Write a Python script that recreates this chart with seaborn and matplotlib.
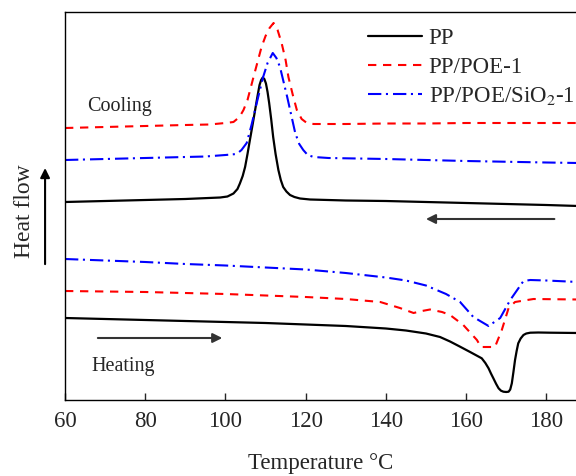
import numpy as np
import matplotlib
matplotlib.use('Agg')
import matplotlib.pyplot as plt
import seaborn as sns
import pandas as pd

fuente = 16.5

# cooling curves (temperature in C, heat flow in arbitrary units)
t_pp_c = [60, 70, 80, 90, 98.7, 100.5, 102, 103, 103.6, 104.3, 104.9, 105.5, 106.1, 106.8, 107.4,
          108, 108.5, 108.9, 109.3, 109.7, 110.1, 110.5, 110.9, 111.4, 111.9, 112.5, 113.2, 113.8,
          114.4, 115.2, 116.1, 117.2, 118.6, 121.1, 130, 140, 150, 160, 170, 180, 188]
pp_c = [198, 199, 200, 201, 202.5, 203.5, 206.5, 211, 216.5, 224, 233, 246, 260, 276, 290,
        304, 315, 320, 322.5, 321, 316.5, 308, 297, 281, 263, 246, 230, 220,
        213, 208.5, 205, 203, 201.5, 200.5, 199.5, 199, 198, 197, 196, 195, 194]

t_poe_c = [60, 70, 80, 90, 96, 100, 102, 103.5, 104.5, 105.5, 107, 108, 109, 110, 111, 112, 113,
           114, 115, 115.7, 116.8, 117.8, 119, 120.3, 122, 130, 140, 150, 160, 170, 180, 188]
poe_c = [272, 273, 274, 275, 275.5, 277, 278, 283, 290, 300, 323, 338, 353, 364, 372, 377, 370,
         357, 340, 323, 305, 290, 281, 277, 276, 276, 276.5, 276.5, 277, 277, 277, 277]

t_sio_c = [60, 70, 80, 90, 95, 100, 102.8, 104, 105.3, 106.5, 107.8, 109.4, 110.5, 111.8, 112.7,
           113.6, 114.5, 115.4, 116.4, 117.4, 118.4, 119.4, 120.5, 122, 125.7, 140, 160, 180, 188]
sio_c = [240, 241, 242, 243, 243.5, 245, 246, 250, 257, 275, 297, 323, 337, 347, 342,
         333, 318, 303, 285, 267, 256, 250, 245, 243, 242, 241, 239, 237.5, 237]

# heating curves
t_pp_h = [60, 70, 80, 90, 100, 110, 120, 130, 140, 145, 150, 153.5, 156, 158.5, 161, 163.9,
          164.8, 165.6, 166.2, 166.8, 167.5, 168.1, 168.7, 169.3, 170, 170.6, 171, 171.4, 171.8,
          172.2, 172.6, 173, 173.6, 174.3, 175, 176, 178, 181, 188]
pp_h = [82, 81, 80, 79, 78, 77, 75.5, 74, 71.5, 69.5, 66.5, 63, 58.5, 53.3, 48, 41.7,
        37, 31.7, 26.5, 21.7, 16, 11.7, 9.3, 8.3, 8, 8.3, 10.5, 16.7, 28,
        40, 49, 56.7, 61.5, 65, 66.5, 67.3, 67.5, 67.3, 67]

t_poe_h = [60, 70, 80, 90, 100, 110, 120, 130, 138.6, 143.5, 146.9, 149, 151, 154, 156, 159.3,
           162.7, 163.7, 167.2, 168.9, 170.6, 172.2, 176.8, 188]
poe_h = [109, 108.5, 108, 107, 106, 104.5, 103, 101, 98, 92, 87, 89, 90.5, 88, 85, 75,
         60, 53, 53, 70, 92, 98, 101, 100.5]

t_sio_h = [60, 70, 80, 90, 100, 110, 120, 130, 140, 145, 150, 155, 158.5, 161.8, 165.6, 168.5,
           171, 174.3, 176, 180, 188]
sio_h = [141, 139.5, 138, 136, 134.5, 132.5, 130.5, 127, 122.5, 119.5, 114.5, 106, 98, 83, 74, 82,
         100, 119, 120, 119.5, 118]

labels = ['PP', 'PP/POE-1', 'PP/POE/SiO$_2$-1']

sns.set_style('ticks')
plt.rcParams['font.family'] = ['Liberation Serif', 'DejaVu Serif']
plt.rcParams['mathtext.fontset'] = 'stix'

fig = plt.figure(figsize=(5.76, 4.76), dpi=100)
ax = fig.add_axes([65 / 576, 76 / 476, 511 / 576, 388 / 476])

red_dash = (4, 3.2)
blue_dashdot = (6.4, 2.2, 1, 2.4)

sns.lineplot(x=t_pp_c, y=pp_c, color='black', linewidth=1.6, ax=ax, label=labels[0])
sns.lineplot(x=t_poe_c, y=poe_c, color='red', linewidth=1.5, ax=ax, label=labels[1])
ax.lines[-1].set_dashes(red_dash)
sns.lineplot(x=t_sio_c, y=sio_c, color='blue', linewidth=1.5, ax=ax, label=labels[2])
ax.lines[-1].set_dashes(blue_dashdot)

sns.lineplot(x=t_pp_h, y=pp_h, color='black', linewidth=1.6, ax=ax)
sns.lineplot(x=t_poe_h, y=poe_h, color='red', linewidth=1.5, ax=ax)
ax.lines[-1].set_dashes(red_dash)
sns.lineplot(x=t_sio_h, y=sio_h, color='blue', linewidth=1.5, ax=ax)
ax.lines[-1].set_dashes(blue_dashdot)

ax.set_xlim(60, 187.4)
ax.set_ylim(0, 388)
ax.set_xticks(np.arange(60, 181, 20))
ax.set_yticks([])
ax.tick_params(axis='x', direction='in', length=5, width=1, labelsize=fuente, pad=8)
for s in ['left', 'bottom', 'top']:
    ax.spines[s].set_linewidth(1.0)
    ax.spines[s].set_color('black')
ax.spines['right'].set_visible(False)

ax.set_xlabel('Temperature \u00b0C', fontsize=fuente, labelpad=15)
ax.set_ylabel('Heat flow', fontsize=fuente + 0.5)
ax.yaxis.set_label_coords(-0.058, 0.487)
ax.annotate('', xy=(-0.039, 0.605), xytext=(-0.039, 0.343), xycoords='axes fraction',
            arrowprops=dict(arrowstyle='-|>', color='black', lw=1.5, mutation_scale=14),
            annotation_clip=False)

ax.annotate('', xy=(149.3, 181), xytext=(182.7, 181),
            arrowprops=dict(arrowstyle='-|>', color='#333333', lw=1.5, mutation_scale=14))
ax.annotate('', xy=(99.9, 62), xytext=(67.5, 62),
            arrowprops=dict(arrowstyle='-|>', color='#333333', lw=1.5, mutation_scale=14))
ax.text(65.5, 294, 'Cooling', fontsize=14.5, va='center', ha='left')
ax.text(66.7, 34, 'Heating', fontsize=14.5, va='center', ha='left')

ax.legend(loc='upper left', bbox_to_anchor=(0.593, 0.959), frameon=False, fontsize=fuente,
          handlelength=2.35, handletextpad=0.3, labelspacing=0.33, borderpad=0, borderaxespad=0)

plt.savefig('out.png', dpi=100)
